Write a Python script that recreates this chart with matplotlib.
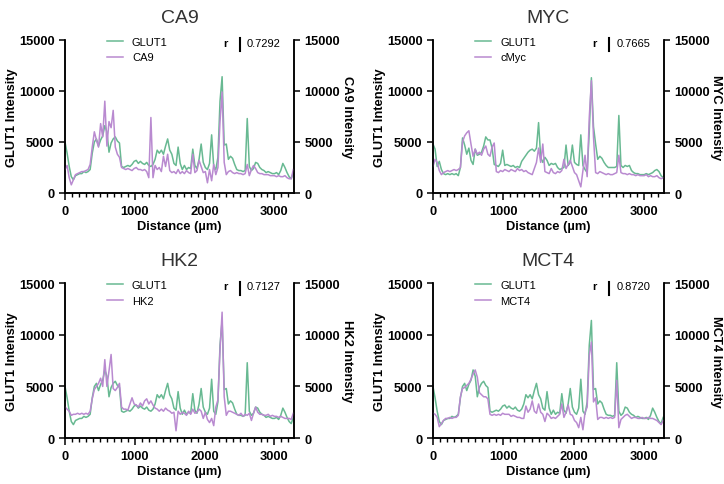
import numpy as np
import matplotlib
matplotlib.use("Agg")
import matplotlib.pyplot as plt
from matplotlib.ticker import MultipleLocator

plt.rcParams['font.family'] = ['Liberation Sans', 'DejaVu Sans']

# sample positions along the line profile (um), 30 um step
distance = np.arange(0, 3300, 30)

# GLUT1 profile (CA9 / HK2 / MCT4 sections)
glut1 = [5000, 3900, 2600, 1600, 1300, 1700, 1800, 1900, 1900, 2100,
         2000, 2100, 2300, 3900, 5000, 5300, 4600, 5200, 5600, 6600,
         6000, 4000, 4900, 5300, 5500, 5100, 4900, 2600, 2500, 2600,
         2700, 2600, 2800, 3100, 3200, 2900, 3100, 2900, 2800, 3000,
         2700, 2600, 2800, 3300, 4200, 3900, 4200, 3800, 4600, 5300,
         4200, 3800, 2900, 2700, 4500, 2900, 2300, 2700, 2300, 2500,
         2400, 4300, 2700, 2400, 3300, 4800, 3000, 2500, 2300, 2900,
         5700, 2600, 2300, 3500, 9000, 11400, 4700, 4800, 3300, 3600,
         3400, 2800, 2300, 2200, 2200, 2100, 2200, 7300, 2600, 2200,
         2400, 3000, 2900, 2500, 2300, 2200, 2000, 2100, 2000, 1900,
         1900, 2000, 1800, 2200, 2900, 2500, 2000, 1600, 1400, 2000]

# GLUT1 profile (MYC section)
glut1_myc = [4800, 4300, 2600, 3100, 2300, 1900, 1800, 1900, 1800, 1900,
             1800, 1900, 1700, 2500, 5400, 4700, 3800, 4400, 3200, 2800,
             4300, 3700, 3800, 4000, 4600, 5500, 5200, 5200, 4400, 2800,
             2700, 2600, 2900, 4200, 2700, 2800, 2700, 2600, 2700, 2500,
             2600, 2500, 3100, 3400, 3700, 4000, 4200, 4300, 4100, 4400,
             6900, 3500, 3000, 3500, 3200, 2700, 2900, 2800, 2900, 2500,
             2300, 2400, 2500, 4700, 2700, 3000, 4700, 3000, 2800, 2700,
             5700, 2700, 2300, 2000, 6000, 11300, 6500, 4800, 3300, 3600,
             3400, 3000, 2700, 2500, 2500, 2500, 2500, 2600, 7600, 2700,
             2500, 2700, 2600, 2700, 2200, 2000, 1900, 1900, 1800, 1800,
             1800, 1900, 1800, 1900, 2000, 2200, 2300, 2100, 1700, 1500]

ca9 = [2300, 2700, 1500, 800, 1300, 1800, 1900, 2000, 2100, 2100,
       2200, 2300, 2800, 4500, 6000, 5200, 4500, 6800, 5500, 9000,
       4600, 7000, 6400, 8100, 4500, 3800, 3500, 2500, 2400, 2300,
       2400, 2300, 2200, 2400, 2500, 2300, 2300, 2200, 2300, 2100,
       1500, 7400, 1500, 2700, 2300, 2500, 2100, 3600, 2600, 3800,
       2200, 2000, 2100, 1900, 2300, 1900, 2100, 1900, 2200, 2000,
       1900, 3800, 2000, 2200, 3200, 2600, 2000, 2100, 1000, 2300,
       1200, 2800, 1800, 2500, 7000, 9900, 3000, 1800, 2100, 2200,
       2000, 1900, 2000, 1900, 1900, 1800, 1900, 2800, 1700, 2300,
       2700, 2400, 2000, 1900, 1900, 1800, 1800, 1800, 1700, 1700,
       1700, 1600, 1700, 1600, 1600, 1700, 1500, 1400, 1400, 2300]

cmyc = [2600, 3300, 3000, 2200, 1800, 2000, 2100, 2200, 2100, 2200,
        2300, 2200, 2300, 2500, 5000, 5600, 5900, 6100, 4800, 3600,
        4300, 3800, 4000, 3700, 4300, 4600, 3800, 3600, 4500, 4900,
        2100, 2000, 2200, 2100, 2300, 2200, 2100, 2300, 2200, 2100,
        2400, 2200, 2300, 2100, 2200, 2000, 1900, 1800, 2400, 3000,
        4400, 3000, 4800, 2100, 2000, 1900, 2400, 2000, 1900, 2100,
        2000, 2200, 3300, 2400, 2800, 3200, 2600, 2000, 1800, 1200,
        600, 2200, 3700, 1600, 7400, 11000, 5500, 2000, 1900, 2100,
        2000, 1900, 1800, 1900, 1800, 1800, 1900, 2000, 3700, 2000,
        1900, 1900, 1800, 1900, 1800, 1800, 1700, 1800, 1700, 1700,
        1700, 1800, 1600, 1700, 1600, 1600, 1700, 1500, 1400, 1500]

hk2 = [3000, 2800, 2600, 2200, 2300, 2300, 2400, 2300, 2400, 2300,
       2400, 2300, 2600, 3800, 4700, 5000, 5300, 5800, 5000, 7600,
       5000, 6500, 8100, 4800, 4600, 4900, 5300, 3000, 2800, 2800,
       2700, 3300, 3900, 3300, 3200, 3000, 3400, 3100, 3600, 3800,
       3300, 3600, 3200, 2900, 2800, 2600, 2800, 2600, 2900, 2700,
       2600, 2400, 2500, 700, 2600, 2300, 2500, 2400, 2200, 2600,
       2300, 2800, 2400, 2500, 2800, 2600, 1900, 2500, 1800, 1500,
       1900, 1200, 3000, 3700, 8500, 12200, 4000, 2200, 2600, 2600,
       2500, 2400, 2300, 2200, 2400, 2100, 2300, 2200, 2400, 1700,
       2400, 3000, 2500, 2300, 2300, 2200, 2200, 2300, 2100, 2200,
       2100, 2100, 2000, 2100, 2000, 1900, 1900, 1900, 1800, 2400]

mct4 = [2400, 2300, 2000, 1100, 1400, 1700, 1900, 1900, 2000, 1900,
        2000, 2000, 2200, 4000, 4800, 4900, 5100, 5300, 5700, 6200,
        6600, 5900, 4400, 4200, 4000, 4000, 3800, 2300, 2200, 2300,
        2200, 2300, 2200, 2400, 2300, 2300, 2300, 2100, 2200, 2100,
        2000, 2000, 1900, 1900, 3100, 2500, 2800, 3600, 2600, 2400,
        3300, 2500, 2300, 1600, 2400, 2200, 1900, 2000, 1900, 2100,
        2300, 3300, 2000, 2500, 3200, 2300, 2200, 1700, 1500, 1000,
        2000, 800, 2500, 3000, 8000, 9300, 3500, 3900, 1800, 2000,
        2000, 1900, 2000, 1900, 2000, 1900, 2000, 5600, 1000, 1800,
        2000, 2200, 2300, 2100, 1900, 2000, 2000, 1900, 1900, 2000,
        1900, 1900, 2000, 1900, 1900, 1800, 1700, 1500, 1300, 1700]

titles = ["CA9", "MYC", "HK2", "MCT4"]
partner_labels = ["CA9", "cMyc", "HK2", "MCT4"]
r_values = ["0.7292", "0.7665", "0.7127", "0.8720"]

green = "#68b992"
purple = "#b98ad0"

fig = plt.figure(figsize=(7.24, 4.85), dpi=100)

# axes boxes in figure fractions [left, bottom, width, height]
boxes = [[0.0898, 0.600, 0.3163, 0.3155],
         [0.5980, 0.600, 0.3190, 0.3155],
         [0.0898, 0.0948, 0.3163, 0.3190],
         [0.5980, 0.0948, 0.3190, 0.3190]]

glut_sets = [glut1, glut1_myc, glut1, glut1]
partners = [ca9, cmyc, hk2, mct4]


def draw_panel(box, title, glut, partner, plabel, rtxt):
    ax = fig.add_axes(box)
    ax2 = ax.twinx()
    ax.plot(distance, glut, color=green, lw=1.1, label="GLUT1")
    ax2.plot(distance, partner, color=purple, lw=1.1, label=plabel)
    for a in (ax, ax2):
        a.set_ylim(0, 15000)
        a.set_yticks([0, 5000, 10000, 15000])
        a.spines['top'].set_visible(False)
        for s in ('left', 'right', 'bottom'):
            a.spines[s].set_linewidth(1.1)
        a.tick_params(axis='y', width=1.1, length=4, labelsize=9.3)
        for lb in a.get_yticklabels():
            lb.set_fontweight('bold')
    ax.set_xlim(0, 3280)
    ax.set_xticks([0, 1000, 2000, 3000])
    ax.xaxis.set_minor_locator(MultipleLocator(100))
    ax.tick_params(axis='x', which='major', width=1.1, length=5, labelsize=9.3)
    ax.tick_params(axis='x', which='minor', width=1.0, length=3)
    for lb in ax.get_xticklabels():
        lb.set_fontweight('bold')
    ax.set_xlabel("Distance (µm)", fontsize=9.3, fontweight='bold', labelpad=2)
    ax.set_ylabel("GLUT1 Intensity", fontsize=9.3, fontweight='bold', labelpad=0.5)
    ax2.set_ylabel(title + " Intensity", fontsize=9.3, fontweight='bold',
                   rotation=270, labelpad=9)
    ax.text(0.5, 1.15, title, transform=ax.transAxes, ha='center',
            va='center', fontsize=14, color='#333333')
    h1, l1 = ax.get_legend_handles_labels()
    h2, l2 = ax2.get_legend_handles_labels()
    ax2.legend(h1 + h2, l1 + l2, loc='upper left', bbox_to_anchor=(0.183, 1.02),
               frameon=False, fontsize=8, handlelength=1.45, handletextpad=0.8,
               labelspacing=0.5, borderpad=0, borderaxespad=0)
    ax.text(0.70, 0.98, "r", transform=ax.transAxes, ha='center', va='center',
            fontsize=8, fontweight='bold')
    ax.plot([0.764, 0.764], [0.925, 1.01], transform=ax.transAxes, color='black',
            lw=1.5, clip_on=False)
    ax.text(0.795, 0.98, rtxt, transform=ax.transAxes, ha='left', va='center',
            fontsize=8)


for i in range(4):
    draw_panel(boxes[i], titles[i], glut_sets[i], partners[i],
               partner_labels[i], r_values[i])

fig.savefig("out.png", dpi=100)
